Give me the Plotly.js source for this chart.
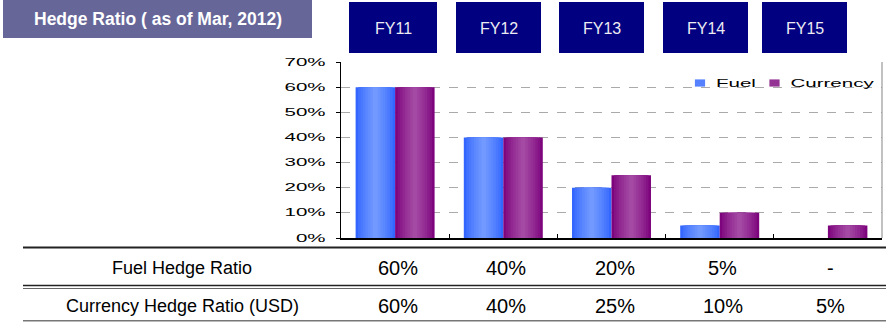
<!DOCTYPE html>
<html>
<head>
<meta charset="utf-8">
<script src="https://cdn.plot.ly/plotly-3.0.1.min.js"></script>
<style>
html,body{margin:0;padding:0;background:#fff;}
#chart{width:886px;height:322px;}
</style>
</head>
<body>
<div id="chart"></div>
<script>
// ---- data ----
const categories = ['FY11', 'FY12', 'FY13', 'FY14', 'FY15'];
const fuelHedge = [0.60, 0.40, 0.20, 0.05, null];
const currencyHedge = [0.60, 0.40, 0.25, 0.10, 0.05];
const seriesNames = ['Fuel', 'Currency'];
const rowLabels = ['Fuel Hedge Ratio', 'Currency Hedge Ratio (USD)'];
const headerTitle = 'Hedge Ratio ( as of Mar, 2012)';
const yTickVals = [0, 0.1, 0.2, 0.3, 0.4, 0.5, 0.6, 0.7];

// ---- layout helpers (pixel -> paper) ----
const PL = 341, PR = 882, PT = 62, PB = 238;
const px = v => (v - PL) / (PR - PL);
const py = v => (PB - v) / (PB - PT);

const BARW = 0.365;

// gradient styling (edge colour -> centre colour), drawn as nested layers
function mix(a, b, t) {
  const ca = [1, 3, 5].map(i => parseInt(a.substr(i, 2), 16));
  const cb = [1, 3, 5].map(i => parseInt(b.substr(i, 2), 16));
  return 'rgb(' + ca.map((v, i) => Math.round(v + (cb[i] - v) * t)).join(',') + ')';
}
const NLAYERS = 8;
function makeLayers(edge, centre) {
  const out = [];
  for (let i = 0; i < NLAYERS; i++) {
    const f = 1 - i / NLAYERS;          // width fraction
    const t = Math.pow(i / (NLAYERS - 1), 0.8);
    out.push([f, mix(edge, centre, t)]);
  }
  return out;
}
const fuelLayers = makeLayers('#3366ff', '#7199ff');
const curLayers = makeLayers('#7d047d', '#a449a4');
const fuelLegendColor = '#5580ff';
const curLegendColor = '#933393';

const traces = [];
function addSeries(name, yvals, baseOffset, layers, legendColor) {
  layers.forEach((ly, i) => {
    const w = BARW * ly[0];
    traces.push({
      type: 'bar', name: name, x: categories, y: yvals,
      width: w, offset: baseOffset + (BARW - w) / 2,
      marker: {color: ly[1], line: {width: 0}},
      legendgroup: name, showlegend: false,
      hoverinfo: 'skip'
    });
  });
  // legend entry (carries the legend swatch colour)
  traces.push({
    type: 'bar', name: name, x: categories, y: yvals.map(() => null),
    width: BARW, offset: baseOffset,
    marker: {color: legendColor, line: {width: 0}},
    legendgroup: name, showlegend: true, hoverinfo: 'skip'
  });
}
addSeries(seriesNames[0], fuelHedge, -BARW, fuelLayers, fuelLegendColor);
addSeries(seriesNames[1], currencyHedge, 0, curLayers, curLegendColor);

const fmt = v => (v === null || v === undefined) ? '-' : Math.round(v * 100) + '%';

const shapes = [];
const annotations = [];

// title box
shapes.push({type: 'rect', xref: 'paper', yref: 'paper', x0: px(3), x1: px(312), y0: py(0), y1: py(38),
  fillcolor: '#666699', line: {width: 0}, layer: 'above'});
annotations.push({xref: 'paper', yref: 'paper', x: px(158), y: py(19), text: '<b>' + headerTitle + '</b>',
  showarrow: false, xanchor: 'center', yanchor: 'middle',
  font: {family: 'Liberation Sans, Arial, sans-serif', size: 17.5, color: '#ffffff'}});

// FY header boxes
const hdrBoxes = [[349, 437], [456, 541], [559, 644], [663, 748], [762, 847]];
categories.forEach((c, i) => {
  const b = hdrBoxes[i];
  shapes.push({type: 'rect', xref: 'paper', yref: 'paper', x0: px(b[0]), x1: px(b[1]), y0: py(2), y1: py(53),
    fillcolor: '#000080', line: {width: 0}});
  annotations.push({xref: 'paper', yref: 'paper', x: px((b[0] + b[1]) / 2), y: py(28), text: c,
    showarrow: false, xanchor: 'center', yanchor: 'middle',
    font: {family: 'Liberation Sans, Arial, sans-serif', size: 16, color: '#ececf2'}});
});

// right border of plot
shapes.push({type: 'line', xref: 'paper', yref: 'paper', x0: 1, x1: 1, y0: 0, y1: 1,
  line: {color: '#999999', width: 1.2}});

// table lines
const TL = 23, TR = 886;
shapes.push({type: 'line', xref: 'paper', yref: 'paper', x0: px(TL), x1: px(TR), y0: py(247.5), y1: py(247.5),
  line: {color: '#222222', width: 2}});
shapes.push({type: 'line', xref: 'paper', yref: 'paper', x0: px(TL), x1: px(TR), y0: py(285.5), y1: py(285.5),
  line: {color: '#222222', width: 1.5}});
shapes.push({type: 'line', xref: 'paper', yref: 'paper', x0: px(TL), x1: px(TR), y0: py(288.5), y1: py(288.5),
  line: {color: '#666666', width: 1}});
shapes.push({type: 'line', xref: 'paper', yref: 'paper', x0: px(TL), x1: px(TR), y0: py(320.7), y1: py(320.7),
  line: {color: '#777777', width: 1.5}});

// table text
const rowY = [268, 306];
const rowData = [fuelHedge, currencyHedge];
rowLabels.forEach((lab, r) => {
  annotations.push({xref: 'paper', yref: 'paper', x: px(182), y: py(rowY[r]), text: lab,
    showarrow: false, xanchor: 'center', yanchor: 'middle',
    font: {family: 'Liberation Sans, Arial, sans-serif', size: 18, color: '#000'}});
  rowData[r].forEach((v, i) => {
    annotations.push({xref: 'x', yref: 'paper', x: categories[i], y: py(rowY[r]), text: fmt(v),
      showarrow: false, xanchor: 'center', yanchor: 'middle', xshift: 3,
      font: {family: 'Liberation Sans, Arial, sans-serif', size: 20, color: '#000'}});
  });
});

const layout = {
  width: 886, height: 322,
  margin: {l: PL, r: 886 - PR, t: PT, b: 322 - PB, pad: 0},
  paper_bgcolor: '#ffffff', plot_bgcolor: '#ffffff',
  barmode: 'overlay',
  showlegend: true,
  legend: {orientation: 'h', x: px(680), xanchor: 'left', y: py(83), yanchor: 'middle',
    bgcolor: 'rgba(0,0,0,0)', borderwidth: 0, itemwidth: 30, entrywidth: 29.5, entrywidthmode: 'pixels',
    font: {family: 'Liberation Sans, Arial, sans-serif', size: 10, color: '#000'}},
  xaxis: {type: 'category', showline: true, linecolor: '#000', linewidth: 1.5,
    ticks: 'inside', tickson: 'boundaries', ticklen: 4, tickcolor: '#000', tickwidth: 1,
    showticklabels: false, showgrid: false, zeroline: false, fixedrange: true},
  yaxis: {range: [0, 0.7], tickvals: yTickVals, tickformat: '.0%', showline: true, linecolor: '#000', linewidth: 1.5,
    ticks: 'outside', ticklen: 4, tickcolor: '#000', tickwidth: 1, ticklabelstandoff: 8,
    showgrid: true, gridcolor: '#aaaaaa', griddash: 'dash', gridwidth: 1, zeroline: false,
    tickfont: {family: 'Liberation Sans, Arial, sans-serif', size: 10, color: '#000'}, fixedrange: true},
  shapes: shapes,
  annotations: annotations
};

const K = 2.05;
function stretch() {
  document.querySelectorAll('#chart .ytick text, #chart .legendtext').forEach(el => {
    if (el.getAttribute('data-stretched')) return;
    const w = el.getComputedTextLength();
    el.setAttribute('textLength', (w * K).toFixed(1));
    el.setAttribute('lengthAdjust', 'spacingAndGlyphs');
    el.setAttribute('data-stretched', '1');
  });
  // legend label a little closer to its swatch
  document.querySelectorAll('#chart .legendtext').forEach(el => {
    const x = parseFloat(el.getAttribute('x') || '0');
    el.setAttribute('x', x - 4);
  });
  // smaller, flatter legend swatches like the original (scaled about their own centre,
  // keeping the transform Plotly already placed on them)
  document.querySelectorAll('#chart .legendpoints path').forEach(el => {
    const b = el.getBBox();
    const cx = b.x + b.width / 2, cy = b.y + b.height / 2;
    const prev = el.getAttribute('transform') || '';
    el.setAttribute('transform', prev +
      ' translate(' + cx + ',' + cy + ') scale(0.85,0.6) translate(' + (-cx) + ',' + (-cy) + ')');
  });
  // let the widened legend labels show in full
  document.querySelectorAll('#chart .legend [clip-path]').forEach(el => el.removeAttribute('clip-path'));
}
Plotly.newPlot('chart', traces, layout, {staticPlot: true, displayModeBar: false}).then(stretch);
</script>
</body>
</html>
